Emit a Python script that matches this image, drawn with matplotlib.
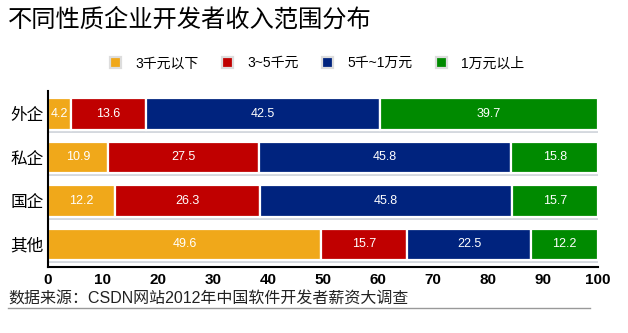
import matplotlib
matplotlib.use("Agg")
import matplotlib.pyplot as plt
import numpy as np

plt.rcParams["font.family"] = ["Noto Sans CJK SC", "DejaVu Sans"]
LATIN = ["Liberation Sans", "Noto Sans CJK SC", "DejaVu Sans"]

categories = ["外企", "私企", "国企", "其他"]
series_names = ["3千元以下", "3~5千元", "5千~1万元", "1万元以上"]
low = [4.2, 10.9, 12.2, 49.6]
mid = [13.6, 27.5, 26.3, 15.7]
high = [42.5, 45.8, 45.8, 22.5]
top = [39.7, 15.8, 15.7, 12.2]
colors = ["#F0A81A", "#C00000", "#00237E", "#008A00"]

fig = plt.figure(figsize=(6.28, 3.33), dpi=100)
ax = fig.add_axes([0.0764, 0.198, 0.876, 0.528])

y = np.arange(len(categories))
h = 0.73
left = np.zeros(len(categories))
for vals, name, c in zip([low, mid, high, top], series_names, colors):
    vals = np.array(vals)
    # soft shadow under each segment
    ax.barh(y + 0.07, vals, h, left=left, color="#d4d8de", edgecolor="none", zorder=1)
    ax.barh(y, vals, h, left=left, color=c, edgecolor="white", linewidth=1.6,
            label=name, zorder=2)
    for yi, l, v in zip(y, left, vals):
        ax.text(l + v / 2, yi, f"{v:.1f}", ha="center", va="center", color="white",
                fontsize=9, family=LATIN, zorder=3)
    left += vals

ax.set_xlim(0, 100)
ax.set_ylim(3.52, -0.52)
ax.set_yticks(y)
ax.set_yticklabels(categories, fontsize=12)
ax.set_xticks(np.arange(0, 101, 10))
ax.set_xticklabels([str(v) for v in range(0, 101, 10)], fontsize=11, fontweight="bold",
                   family=LATIN)
ax.tick_params(length=0, pad=4)
ax.tick_params(axis="y", pad=3)
for s in ["top", "right"]:
    ax.spines[s].set_visible(False)
ax.spines["left"].set_linewidth(1.5)
ax.spines["bottom"].set_linewidth(1.5)

fig.text(0.013, 0.94, "不同性质企业开发者收入范围分布", fontsize=17.5, va="center", ha="left",
         fontweight="light")

handles, labels = ax.get_legend_handles_labels()
leg = fig.legend(handles, labels, loc="center", bbox_to_anchor=(0.505, 0.81), ncol=4,
                 frameon=False, prop={"family": LATIN, "size": 10}, handlelength=0.8,
                 handleheight=0.8, columnspacing=1.7, handletextpad=1.0)
for p in leg.get_patches():
    p.set_edgecolor("#dddddd")

fig.text(0.013, 0.103, "数据来源：CSDN网站2012年中国软件开发者薪资大调查", fontsize=11.5,
         va="center", ha="left", color="#222222", family=LATIN)
fig.add_artist(plt.Line2D([0.013, 0.94], [0.074, 0.074], color="#999999", linewidth=1.0,
                          transform=fig.transFigure))

fig.savefig("out.png", dpi=100)
